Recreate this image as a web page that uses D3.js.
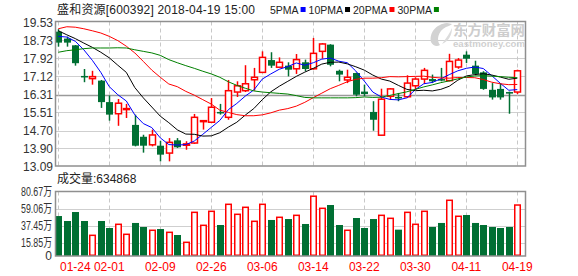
<!DOCTYPE html>
<html>
<head>
<meta charset="utf-8">
<script src="https://cdn.jsdelivr.net/npm/d3@7/dist/d3.min.js"></script>
<style>
    body { margin: 0; background: #fff; }
    svg text { font-family: "Liberation Sans", Arial, "Noto Sans CJK SC", sans-serif; }
</style>
</head>
<body>
<svg id="chart"></svg>
<script>
// trading days 2018-01-24 .. 2018-04-19
const dates = ['01-24','01-25','01-26','01-29','01-30','01-31','02-01','02-02','02-05','02-06',
    '02-07','02-08','02-09','02-12','02-13','02-14','02-22','02-23','02-26','02-27',
    '02-28','03-01','03-02','03-05','03-06','03-07','03-08','03-09','03-12','03-13',
    '03-14','03-15','03-16','03-19','03-20','03-21','03-22','03-23','03-26','03-27',
    '03-28','03-29','03-30','04-02','04-03','04-04','04-09','04-10','04-11','04-12',
    '04-13','04-16','04-17','04-18','04-19'];
const tickDates = ['01-24','02-01','02-09','02-26','03-06','03-14','03-22','03-30','04-11','04-19'];

const open = [19.12,18.81,18.51,17.14,17.02,16.93,15.97,15.45,15.64,14.95,
    14.42,14.06,14.02,13.69,14.26,14.04,14.14,15.10,15.07,15.53,
    15.29,16.42,16.48,16.97,17.30,17.85,17.53,17.60,17.46,17.75,
    17.46,18.24,18.54,17.37,16.96,17.27,16.44,15.53,14.49,16.23,
    16.20,16.21,16.70,17.00,17.00,17.00,16.93,17.54,18.09,17.60,
    17.30,16.52,16.56,16.42,16.42];
const close = [18.63,18.63,17.71,17.10,17.11,15.97,15.41,15.92,15.68,14.02,
    14.02,14.50,13.62,14.17,13.95,14.10,15.29,15.14,15.74,15.49,
    16.48,16.70,16.79,17.08,17.97,17.60,17.75,17.42,17.87,17.45,
    18.15,18.57,17.64,17.20,17.08,16.30,16.33,15.18,16.10,16.56,
    16.16,16.82,17.00,17.39,16.90,16.93,17.79,17.85,17.91,17.23,
    16.56,16.18,16.18,16.35,17.37];
const high = [19.23,18.90,18.52,17.45,17.37,16.96,16.27,16.11,15.89,15.41,
    14.51,14.74,14.24,14.36,14.36,14.22,15.44,15.16,16.15,15.89,
    16.96,16.90,17.62,17.50,18.24,18.20,17.97,17.75,18.12,17.87,
    18.84,18.61,18.56,17.42,17.42,17.29,16.75,16.01,16.57,16.60,
    16.38,17.17,17.08,17.50,17.20,17.50,18.13,17.94,18.24,17.82,
    17.35,16.82,16.82,16.44,17.42];
const low = [18.45,18.45,17.60,16.86,16.75,15.71,15.14,14.91,15.26,13.99,
    13.71,13.99,13.32,13.32,13.92,13.84,14.10,14.74,15.03,15.41,
    15.18,16.20,16.42,16.48,17.27,17.50,17.50,17.12,17.23,17.35,
    17.42,17.91,17.57,16.90,16.82,16.23,16.23,14.69,14.47,16.08,
    16.01,16.15,16.52,16.78,16.82,16.90,16.90,17.46,17.72,17.17,
    16.52,16.08,16.08,15.45,16.33];
// volume, in 万 shares
const volume = [49.5,43.2,54.6,43.2,25.0,43.2,34.3,39.0,26.3,40.7,
    35.6,31.4,33.0,28.8,25.4,16.1,54.2,37.7,55.5,38.1,
    64.4,51.7,60.6,42.8,64.4,44.5,47.9,45.7,50.4,39.4,
    74.69,59.3,63.5,38.1,31.4,47.0,34.3,45.7,50.4,46.6,
    32.2,54.2,39.0,55.5,35.6,40.7,69.5,49.2,50.8,40.7,
    38.1,35.6,34.3,35.6,63.4868];

const ma5 = [18.91,18.88,18.69,18.31,17.84,17.30,16.66,16.30,16.02,15.40,
    15.01,14.83,14.37,14.07,14.05,14.07,14.23,14.53,14.84,15.15,
    15.63,15.91,16.24,16.51,17.00,17.23,17.44,17.56,17.72,17.62,
    17.73,17.89,17.94,17.80,17.73,17.36,16.91,16.42,16.20,16.09,
    16.07,16.16,16.53,16.79,16.85,17.01,17.20,17.37,17.48,17.54,
    17.47,17.15,16.81,16.50,16.53];
const ma10 = [19.16,18.98,18.81,18.61,18.42,18.20,17.95,17.62,17.30,16.62,
    16.16,15.75,15.34,15.05,14.73,14.54,14.53,14.45,14.46,14.60,
    14.85,15.07,15.39,15.68,16.08,16.43,16.68,16.90,17.12,17.31,
    17.48,17.67,17.75,17.76,17.68,17.55,17.40,17.18,17.00,16.91,
    16.72,16.54,16.48,16.50,16.47,16.54,16.68,16.95,17.14,17.20,
    17.24,17.18,17.09,16.99,17.04];
const ma20 = [19.25,19.34,19.32,19.25,19.16,19.06,18.91,18.72,18.47,18.17,
    17.79,17.40,17.08,16.78,16.66,16.45,16.28,16.08,15.88,15.61,
    15.51,15.41,15.36,15.36,15.40,15.49,15.61,15.68,15.79,15.96,
    16.17,16.37,16.57,16.72,16.88,16.99,17.04,17.04,17.06,17.11,
    17.10,17.11,17.12,17.13,17.08,17.05,17.04,17.07,17.07,17.06,
    16.98,16.86,16.79,16.75,16.76];
const ma30 = [18.20,18.27,18.31,18.36,18.39,18.39,18.39,18.40,18.39,18.31,
    18.24,18.17,18.06,17.87,17.73,17.60,17.48,17.35,17.23,17.08,
    16.88,16.72,16.59,16.47,16.42,16.39,16.36,16.33,16.26,16.18,
    16.16,16.16,16.16,16.16,16.16,16.17,16.20,16.18,16.19,16.27,
    16.35,16.43,16.54,16.65,16.74,16.84,16.92,17.01,17.09,17.14,
    17.15,17.13,17.11,17.08,17.06];

const priceTicks = [19.53,18.73,17.92,17.12,16.31,15.51,14.70,13.90,13.09];
const volTicks = [80.67,59.06,37.45,15.85,0];
const maNames = ['5PMA','10PMA','20PMA','30PMA'];

let graphicopt = {
    width: 578, height: 276,
    left: 55.5, right: 525.5,
    priceTop: 21.5, priceBottom: 166,
    volTop: 191.5, volBottom: 256,
    up: '#ff0000', down: '#006f33',
    maColor: ['#0000ff','#000000','#ff0000','#008000'],
    candleW: 6
};

const svg = d3.select('#chart')
    .attr('width', graphicopt.width)
    .attr('height', graphicopt.height);

const x = d3.scalePoint().domain(dates).range([58.3, 517.3]);
const y = d3.scaleLinear().domain([13.09, 19.53]).range([166.5, 22.5]);
const yv = d3.scaleLinear().domain([0, 80.67]).range([255, 191.5]);

const candles = dates.map((d, i) => ({
    date: d, o: open[i], c: close[i], h: high[i], l: low[i], v: volume[i], up: close[i] >= open[i]
}));

// ---------- grid ----------
function grid(g, top, bottom, hLines, yScale) {
    g.selectAll('.hgrid').data(hLines).enter().append('line')
        .attr('x1', graphicopt.left).attr('x2', graphicopt.right)
        .attr('y1', d => Math.round(yScale(d)) + 0.5).attr('y2', d => Math.round(yScale(d)) + 0.5)
        .attr('stroke', d => d === 16.31 ? '#9a9a9a' : '#cfcfcf')
        .attr('stroke-width', d => d === 16.31 ? 1.5 : 1);
    g.selectAll('.vgrid').data(tickDates).enter().append('line')
        .attr('x1', d => Math.round(x(d)) + 0.5).attr('x2', d => Math.round(x(d)) + 0.5)
        .attr('y1', top).attr('y2', bottom)
        .attr('stroke', '#c8c8c8')
        .attr('stroke-dasharray', '4,3');
}

const gp = svg.append('g').attr('class', 'price');
grid(gp, graphicopt.priceTop, graphicopt.priceBottom, priceTicks.slice(1, -1), y);
const gv = svg.append('g').attr('class', 'vol');
grid(gv, graphicopt.volTop, graphicopt.volBottom, volTicks.slice(1, -1), yv);

// frames
[[graphicopt.priceTop, graphicopt.priceBottom], [graphicopt.volTop, graphicopt.volBottom]].forEach(r => {
    svg.append('rect')
        .attr('x', graphicopt.left).attr('y', r[0])
        .attr('width', graphicopt.right - graphicopt.left).attr('height', r[1] - r[0])
        .attr('fill', 'none').attr('stroke', '#8f8f8f').attr('stroke-width', 1.5);
});

// ---------- watermark ----------
const wm = svg.append('g').attr('class', 'watermark');
wm.append('path')
    .attr('d', 'M447,23 C436,24 429,33 431,42 C433,46 437,47 440,45 C436,40 438,31 446,27 C449,26 451,25 452,24 Z')
    .attr('fill', '#d2d2d2');
wm.append('path')
    .attr('d', 'M442,44 C446,38 450,33 452,28 C452,35 449,41 442,44 Z')
    .attr('fill', '#dcdcdc');
wm.append('text').attr('x', 453).attr('y', 35)
    .attr('font-size', 13.5).attr('font-weight', 'bold')
    .attr('fill', '#cdcdcd')
    .attr('textLength', 72).attr('lengthAdjust', 'spacingAndGlyphs')
    .style('font-family', '"Noto Sans CJK SC", sans-serif')
    .text('东方财富网');
wm.append('text').attr('x', 453).attr('y', 47)
    .attr('font-size', 9).attr('font-weight', 'bold')
    .attr('fill', '#d0d0d0')
    .attr('textLength', 72).attr('lengthAdjust', 'spacingAndGlyphs')
    .text('eastmoney.com');

// ---------- candles ----------
const cw = graphicopt.candleW;
const cg = gp.selectAll('.candle').data(candles).enter().append('g').attr('class', 'candle');

cg.each(function(d) {
    const g = d3.select(this);
    const cx = Math.round(x(d.date)) + 0.5;
    const yTop = y(Math.max(d.o, d.c)), yBot = y(Math.min(d.o, d.c));
    const col = d.up ? graphicopt.up : graphicopt.down;
    if (d.up) {
        g.append('line').attr('x1', cx).attr('x2', cx).attr('y1', y(d.h)).attr('y2', yTop)
            .attr('stroke', col).attr('stroke-width', 1.5);
        g.append('line').attr('x1', cx).attr('x2', cx).attr('y1', yBot).attr('y2', y(d.l))
            .attr('stroke', col).attr('stroke-width', 1.5);
        g.append('rect')
            .attr('x', cx - cw / 2).attr('y', yTop)
            .attr('width', cw).attr('height', Math.max(yBot - yTop, 1))
            .attr('fill', '#fff').attr('stroke', col).attr('stroke-width', 1.5);
    } else {
        g.append('line').attr('x1', cx).attr('x2', cx).attr('y1', y(d.h)).attr('y2', y(d.l))
            .attr('stroke', col).attr('stroke-width', 1.5);
        g.append('rect')
            .attr('x', cx - cw / 2 - 0.5).attr('y', yTop)
            .attr('width', cw + 1).attr('height', Math.max(yBot - yTop, 1.5))
            .attr('fill', col);
    }
});

// ---------- moving averages ----------
const line = d3.line().x((d, i) => x(dates[i])).y(d => y(d));
[ma5, ma10, ma20, ma30].forEach((ma, k) => {
    gp.append('path')
        .datum(ma)
        .attr('d', line)
        .attr('fill', 'none')
        .attr('stroke', graphicopt.maColor[k])
        .attr('stroke-width', 1);
});

// ---------- volume ----------
gv.selectAll('.vbar').data(candles).enter().append('rect')
    .attr('class', 'vbar')
    .attr('x', d => Math.round(x(d.date)) + 0.5 - cw / 2 + (d.up ? 0.25 : -0.5))
    .attr('y', d => yv(d.v))
    .attr('width', d => d.up ? cw - 0.5 : cw + 1)
    .attr('height', d => graphicopt.volBottom - yv(d.v) - (d.up ? 0.75 : 0))
    .attr('fill', d => d.up ? '#fff' : graphicopt.down)
    .attr('stroke', d => d.up ? graphicopt.up : 'none')
    .attr('stroke-width', 1.5);

// ---------- axes text ----------
svg.selectAll('.plabel').data(priceTicks).enter().append('text')
    .attr('class', 'plabel')
    .attr('x', 53).attr('y', d => y(d))
    .attr('dy', '0.36em')
    .attr('text-anchor', 'end')
    .attr('font-size', 12)
    .attr('fill', '#333')
    .text(d => d.toFixed(2));

svg.selectAll('.vlabel').data(volTicks).enter().append('text')
    .attr('class', 'vlabel')
    .attr('x', 52).attr('y', d => yv(d) + (d === 0 ? 1 : 0))
    .attr('dy', '0.36em')
    .attr('text-anchor', 'end')
    .attr('font-size', 12)
    .attr('fill', '#333')
    .attr('textLength', d => d === 0 ? null : 31)
    .attr('lengthAdjust', 'spacingAndGlyphs')
    .text(d => d === 0 ? '0' : d.toFixed(2) + '万');

svg.selectAll('.xlabel').data(tickDates).enter().append('text')
    .attr('class', 'xlabel')
    .attr('x', (d, i) => i === 0 ? 60 : x(d))
    .attr('y', 271)
    .attr('text-anchor', (d, i) => i === 0 ? 'start' : 'middle')
    .attr('font-size', 12)
    .attr('fill', '#ff0000')
    .text(d => d);

// title + legend
svg.append('text').attr('x', 57).attr('y', 14)
    .attr('font-size', 12).attr('fill', '#222')
    .attr('textLength', 198).attr('lengthAdjust', 'spacing')
    .text('盛和资源[600392] 2018-04-19 15:00');

let lx = 270;
maNames.forEach((name, k) => {
    const t = svg.append('text').attr('x', lx).attr('y', 14)
        .attr('font-size', 10.5).attr('fill', '#222').text(name);
    const w = t.node().getComputedTextLength();
    svg.append('rect').attr('x', lx + w + 2).attr('y', 7)
        .attr('width', 5).attr('height', 5)
        .attr('fill', graphicopt.maColor[k]);
    lx += w + 10;
});

svg.append('text').attr('x', 57).attr('y', 182.5)
    .attr('font-size', 12).attr('fill', '#222')
    .text('成交量:' + Math.round(volume[volume.length - 1] * 10000));
</script>
</body>
</html>
